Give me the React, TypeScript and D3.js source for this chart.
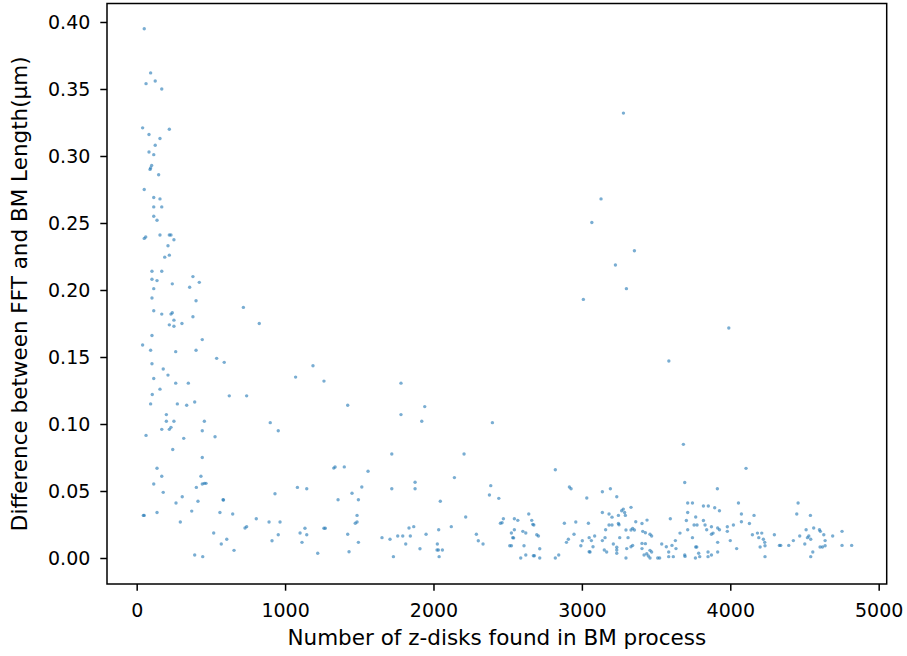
import React, { useEffect, useRef } from 'react';
import * as d3 from 'd3';

// points, grouped by area of the plot: [z-disks, difference]
const leftTop: number[][] = [
  [51, 0.395], [94, 0.362], [125, 0.356], [63, 0.354], [169, 0.35], [40, 0.321], [220, 0.32], [83, 0.316],
  [157, 0.313], [125, 0.308], [83, 0.303], [115, 0.301], [101, 0.293], [94, 0.291], [90, 0.29], [148, 0.286],
  [51, 0.275], [115, 0.269], [157, 0.268],
];

const leftMid: number[][] = [
  [115, 0.262], [169, 0.262], [115, 0.255], [137, 0.252], [51, 0.2385], [61, 0.2395], [157, 0.241], [220, 0.241],
  [231, 0.241], [251, 0.2375], [211, 0.233], [220, 0.226], [189, 0.2245], [103, 0.214], [169, 0.214], [379, 0.21],
  [103, 0.208], [137, 0.207], [240, 0.2046], [422, 0.2057], [357, 0.202], [115, 0.201], [103, 0.194], [400, 0.192],
  [719, 0.187], [115, 0.1845], [169, 0.182], [231, 0.182], [240, 0.183], [379, 0.18], [251, 0.1775], [220, 0.174],
  [251, 0.173], [305, 0.175], [826, 0.175], [103, 0.166], [442, 0.163], [40, 0.159], [94, 0.155], [263, 0.154],
  [400, 0.155], [539, 0.149], [590, 0.146], [103, 0.145], [179, 0.141], [211, 0.1365], [1071, 0.135], [115, 0.134],
  [263, 0.1305], [348, 0.1305], [157, 0.126],
];

const leftLow: number[][] = [
  [105, 0.122], [624, 0.121], [741, 0.121], [94, 0.115], [274, 0.115], [337, 0.114], [391, 0.1164], [200, 0.107],
  [200, 0.102], [251, 0.102], [456, 0.102], [169, 0.096], [220, 0.096], [231, 0.0975], [442, 0.095], [900, 0.101],
  [954, 0.095], [63, 0.0915], [317, 0.0893], [528, 0.0905], [243, 0.081], [442, 0.075], [137, 0.067], [169, 0.061],
  [433, 0.061], [115, 0.0552], [402, 0.0527], [442, 0.0552], [456, 0.0557], [467, 0.0557], [179, 0.049], [307, 0.0457],
  [932, 0.048], [1083, 0.0527], [265, 0.041], [413, 0.0423], [582, 0.0435], [585, 0.0433], [45, 0.0318], [51, 0.0318],
  [137, 0.034], [371, 0.035], [561, 0.034], [647, 0.0328], [806, 0.0293], [892, 0.0269], [966, 0.0269], [294, 0.0269],
  [730, 0.0224], [741, 0.0234], [519, 0.0187], [954, 0.0174], [1101, 0.0187], [607, 0.014], [570, 0.0104], [912, 0.0129],
  [656, 0.0057], [391, 0.0022], [445, 0.001],
];

const middle: number[][] = [
  [3010, 0.193], [1188, 0.1435], [1262, 0.132], [1781, 0.1305], [1422, 0.114], [1941, 0.113], [1781, 0.107], [1921, 0.102],
  [2397, 0.101], [1719, 0.0776], [2206, 0.0776], [1328, 0.0671], [1337, 0.0679], [1399, 0.068], [1559, 0.0647], [2821, 0.0659],
  [1146, 0.0517], [2141, 0.06], [2386, 0.054], [1876, 0.0565], [1876, 0.0517], [1719, 0.0517], [1451, 0.0483], [1357, 0.0435],
  [1494, 0.0435], [1517, 0.053], [2377, 0.047], [2440, 0.0445], [2046, 0.0423], [2916, 0.053], [2927, 0.0517], [3033, 0.0448],
  [2217, 0.0306], [1485, 0.0318], [1473, 0.0259], [1485, 0.0269], [2642, 0.0328], [2471, 0.0293], [2451, 0.0259], [2462, 0.0263],
  [2545, 0.0293], [2568, 0.0281], [2662, 0.0281], [2669, 0.0251], [2676, 0.0246], [2882, 0.0259], [2959, 0.0269], [3044, 0.0259],
  [1134, 0.0222], [1262, 0.0222], [1271, 0.0222], [1146, 0.0174], [1422, 0.0177], [1835, 0.0224], [1867, 0.0234], [2120, 0.0234],
  [2035, 0.0211], [1950, 0.0177], [2289, 0.0177], [2525, 0.0187], [2545, 0.0211], [2602, 0.0199], [2622, 0.0187], [2696, 0.0174],
  [2707, 0.0164], [2947, 0.0177], [1759, 0.0164], [1793, 0.0164], [1844, 0.0164], [1653, 0.0152], [1707, 0.014], [2534, 0.0152],
  [2540, 0.015], [1114, 0.0117], [1494, 0.0117], [1813, 0.0104], [2026, 0.0104], [2302, 0.0129], [2334, 0.0104], [2909, 0.014],
  [2896, 0.0117], [3003, 0.0129], [2993, 0.0092], [3049, 0.0152], [2514, 0.0092], [2525, 0.0092], [2610, 0.0092], [2716, 0.0069],
  [1909, 0.0069], [1220, 0.0035], [1431, 0.0047], [2024, 0.006], [2033, 0.006], [2060, 0.006], [3049, 0.0047], [1730, 0.001],
  [2038, 0.001], [2622, 0.0022], [2673, 0.0017], [2680, 0.0017], [2588, 0], [2716, 0], [2821, 0], [2844, 0.0022],
];

const rightHigh: number[][] = [
  [3280, 0.332], [3129, 0.268], [3067, 0.2504], [3354, 0.2293], [3226, 0.2186], [3300, 0.201], [3990, 0.1716], [3586, 0.147],
];

const rightLow: number[][] = [
  [3684, 0.0848], [3693, 0.0564], [4106, 0.0669], [3913, 0.0517], [3138, 0.0494], [3192, 0.0517], [3235, 0.0457],
  [3138, 0.034], [3183, 0.0328], [3203, 0.0305], [3246, 0.0318], [3268, 0.0353], [3279, 0.0365], [3288, 0.034], [3293, 0.0318],
  [3331, 0.0378], [3363, 0.0271], [3405, 0.0258], [3439, 0.0283], [3160, 0.0211], [3183, 0.0246], [3203, 0.0246], [3246, 0.0258],
  [3250, 0.0248], [3297, 0.0209], [3331, 0.0209], [3342, 0.0221], [3354, 0.0209], [3410, 0.0199], [3428, 0.0189], [3459, 0.0177],
  [3470, 0.0164], [3255, 0.0152], [3311, 0.0152], [3156, 0.0152], [3138, 0.013], [3212, 0.0105], [3235, 0.008], [3235, 0.006],
  [3235, 0.0035], [3302, 0.007], [3331, 0.0084], [3342, 0.0094], [3405, 0.0109], [3405, 0.007], [3428, 0.0107], [3459, 0.0057],
  [3470, 0.0045], [3437, 0.0032], [3448, 0.0015], [3459, 0], [3419, 0.0022], [3297, 0], [3151, 0.006], [3167, 0.0045],
  [3055, 0.0045], [3075, 0.0084], [3086, 0.0164], [3064, 0.013], [3596, 0.0293], [3661, 0.0186], [3704, 0.028], [3713, 0.034],
  [3713, 0.041], [3745, 0.041], [3713, 0.0211], [3745, 0.0152], [3767, 0.0306], [3774, 0.0082], [3767, 0.0082], [3756, 0.0246],
  [3776, 0.0246], [3819, 0.028], [3830, 0.0246], [3841, 0.0211], [3819, 0.0388], [3852, 0.0388], [3895, 0.0375], [3927, 0.0353],
  [3873, 0.0233], [3873, 0.0177], [3884, 0.0186], [3915, 0.0224], [3927, 0.0211], [3980, 0.0233], [3980, 0.0199], [4021, 0.0246],
  [3915, 0.0117], [3915, 0.0045], [4000, 0.013], [4043, 0.007], [4055, 0.041], [4075, 0.0328], [4075, 0.0271], [4129, 0.0258],
  [4160, 0.0318], [4149, 0.0174], [4183, 0.0186], [4192, 0.0152], [4212, 0.0186], [4223, 0.014], [4232, 0.0117], [4234, 0.0092],
  [4201, 0.0082], [4234, 0.001], [4297, 0.0174], [4331, 0.0094], [4340, 0.0094], [4394, 0.0094], [4425, 0.013], [4448, 0.0328],
  [4457, 0.041], [4468, 0.0164], [4502, 0.0104], [4511, 0.0211], [4520, 0.0152], [4529, 0.0164], [4542, 0.014], [4540, 0.0318],
  [4542, 0.001], [4556, 0.0045], [4562, 0.0224], [4601, 0.0211], [4607, 0.0199], [4621, 0.0082], [4605, 0.0082], [4630, 0.0174],
  [4639, 0.013], [4639, 0.0092], [4690, 0.0164], [4753, 0.0199], [4753, 0.0094], [4818, 0.0094],
  [3538, 0.0104], [3569, 0.0084], [3607, 0.0094], [3634, 0.007], [3630, 0.013], [3585, 0.0045], [3585, 0.001], [3616, 0.001],
  [3693, 0.0022], [3695, 0.0012], [3765, 0], [3787, 0.0035], [3794, 0.001], [3850, 0.0045], [3850, 0.001], [3873, 0.0022],
  [3511, 0], [3524, 0],
];

const xTicks = [0, 1000, 2000, 3000, 4000, 5000];
const yTicks = [0, 0.05, 0.1, 0.15, 0.2, 0.25, 0.3, 0.35, 0.4];

const xLabel = 'Number of z-disks found in BM process';
const yLabel = 'Difference between FFT and BM Length(μm)';

const App = () => {
  const svgRef = useRef<SVGSVGElement>(null);

  const width = 907;
  const height = 656;
  const margin = { top: 3.5, right: 20.3, bottom: 72, left: 107 };
  const font = 'DejaVu Sans, sans-serif';

  useEffect(() => {
    const svg = d3.select(svgRef.current);
    svg.selectAll('*').remove();

    const points = [...leftTop, ...leftMid, ...leftLow, ...middle, ...rightHigh, ...rightLow];

    const x = d3.scaleLinear()
      .domain([-200, 5054])
      .range([margin.left, width - margin.right]);
    const y = d3.scaleLinear()
      .domain([-0.0194, 0.4138])
      .range([height - margin.bottom, margin.top]);

    svg.append('rect')
      .attr('width', width)
      .attr('height', height)
      .attr('fill', 'white');

    // points
    svg.append('g')
      .selectAll('circle')
      .data(points)
      .join('circle')
      .attr('cx', d => x(d[0]))
      .attr('cy', d => y(d[1]))
      .attr('r', 1.7)
      .attr('fill', '#1f77b4')
      .attr('fill-opacity', 0.6);

    const xAxis = svg.append('g')
      .attr('transform', `translate(0,${height - margin.bottom})`)
      .call(d3.axisBottom(x).tickValues(xTicks).tickFormat(d3.format('d')).tickSize(6.7).tickPadding(12.5));
    const yAxis = svg.append('g')
      .attr('transform', `translate(${margin.left},0)`)
      .call(d3.axisLeft(y).tickValues(yTicks).tickFormat(d3.format('.2f')).tickSize(6.7).tickPadding(10));

    [xAxis, yAxis].forEach(a => {
      a.select('.domain').remove();
      a.selectAll('line').attr('stroke', '#000').attr('stroke-width', 1.5);
      a.selectAll('text')
        .attr('font-family', font)
        .attr('font-size', 19)
        .attr('fill', '#000');
    });

    // frame
    svg.append('rect')
      .attr('x', margin.left)
      .attr('y', margin.top)
      .attr('width', width - margin.left - margin.right)
      .attr('height', height - margin.top - margin.bottom)
      .attr('fill', 'none')
      .attr('stroke', '#000')
      .attr('stroke-width', 1.5);

    svg.append('text')
      .attr('x', (margin.left + width - margin.right) / 2)
      .attr('y', 645)
      .attr('text-anchor', 'middle')
      .attr('font-family', font)
      .attr('font-size', 21.5)
      .text(xLabel);

    svg.append('text')
      .attr('transform', `translate(27,${(margin.top + height - margin.bottom) / 2}) rotate(-90)`)
      .attr('text-anchor', 'middle')
      .attr('font-family', font)
      .attr('font-size', 21.5)
      .text(yLabel);
  }, []);

  return (
    <svg ref={svgRef} width={width} height={height}
      style={{ position: 'absolute', left: 0, top: 0 }}></svg>
  );
};

export default App;
